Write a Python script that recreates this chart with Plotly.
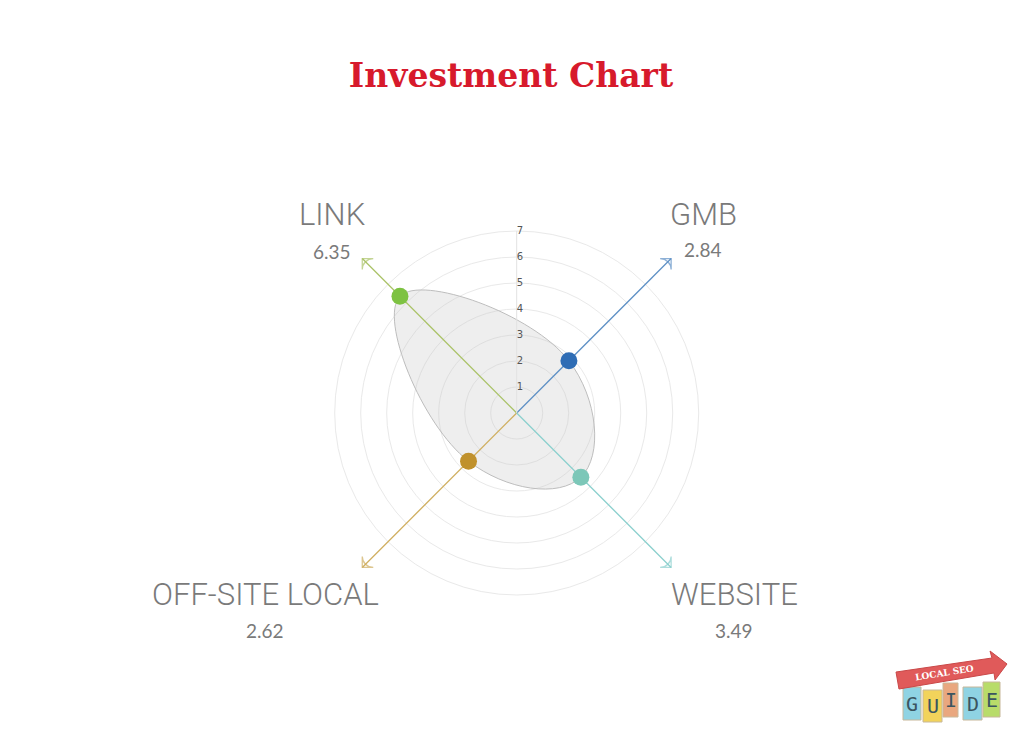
import plotly.graph_objects as go

# data
categories = ["GMB", "LINK", "OFF-SITE LOCAL", "WEBSITE"]
scores = [2.84, 6.35, 2.62, 3.49]
ring_ticks = [1, 2, 3, 4, 5, 6, 7]

marker_colors = ["#2F6DB5", "#7DC242", "#C0912C", "#7CC7B8"]
axis_colors = ["#5C8FC4", "#A9C266", "#CFAE5F", "#8ACFCD"]

arrow_len = 8.4
gray_txt = "#7A7A7A"
W, H, OFF = 1024, 745, 8  # page body margin shifts everything by 8px


def px(x, y):
    # screen pixel -> paper fraction
    return (x - OFF) / W, 1 - (y - OFF) / H


fig = go.Figure()

# filled shape (closed spline)
fig.add_trace(go.Scatterpolar(
    r=scores + scores[:1],
    theta=categories + categories[:1],
    mode="lines",
    fill="toself",
    fillcolor="rgba(200,200,200,0.3)",
    line=dict(color="#BDBDBD", width=1, shape="spline", smoothing=1.3),
    hoverinfo="skip",
))

# vertical radial scale line + ring numbers
fig.add_trace(go.Scatterpolar(
    r=[0, ring_ticks[-1]], theta=[90, 90], thetaunit="degrees",
    mode="lines", line=dict(color="#E2E2E2", width=1),
    hoverinfo="skip", subplot="polar2",
))
fig.add_trace(go.Scatterpolar(
    r=ring_ticks, theta=[90] * len(ring_ticks), thetaunit="degrees",
    mode="text", text=[str(t) for t in ring_ticks], textposition="middle right",
    textfont=dict(family="DejaVu Sans", size=10, color="#555555"),
    hoverinfo="skip", subplot="polar2",
))

# coloured axis arrows
for cat, col in zip(categories, axis_colors):
    fig.add_trace(go.Scatterpolar(
        r=[0, arrow_len], theta=[cat, cat],
        mode="lines+markers",
        line=dict(color=col, width=1.3),
        marker=dict(symbol=["circle", "arrow-wide-open"], size=[0, 11],
                    angleref="previous", color=col, line=dict(color=col, width=1.3)),
        hoverinfo="skip",
    ))

# score points
fig.add_trace(go.Scatterpolar(
    r=scores, theta=categories, mode="markers",
    marker=dict(size=17, color=marker_colors),
))

# labels: (x, name y, value y) in screen pixels
label_pos = {
    "GMB": (703, 214, 250),
    "LINK": (332, 214, 251),
    "OFF-SITE LOCAL": (265, 594, 630),
    "WEBSITE": (734, 594, 630),
}
for cat, val in zip(categories, scores):
    x, y1, y2 = label_pos[cat]
    ax, ay = px(x, y1)
    fig.add_annotation(x=ax, y=ay, xref="paper", yref="paper", text=cat, showarrow=False,
                       font=dict(family="Roboto", size=31, weight=300, color=gray_txt),
                       xanchor="center", yanchor="middle")
    ax, ay = px(x, y2)
    fig.add_annotation(x=ax, y=ay, xref="paper", yref="paper", text=f"{val:.2f}", showarrow=False,
                       font=dict(family="Lato", size=19, color=gray_txt),
                       xanchor="center", yanchor="middle")

# logo (approximate)
logo_letters = ["G", "U", "I", "D", "E"]
logo_colors = ["#8FD3E3", "#F2D35B", "#E9A77F", "#8FD3E3", "#B8DC6A"]
logo_boxes = [(903, 921, 687, 720), (923, 942, 690, 722), (943, 958, 683, 717),
              (963, 982, 687, 720), (983, 1000, 682, 717)]
for ch, c, (x0, x1, y0, y1) in zip(logo_letters, logo_colors, logo_boxes):
    px0, py0 = px(x0, y0)
    px1, py1 = px(x1, y1)
    fig.add_shape(type="rect", xref="paper", yref="paper", x0=px0, x1=px1,
                  y0=py0, y1=py1, fillcolor=c, line=dict(color="#C8B89A", width=1))
    tx, ty = px((x0 + x1) / 2, (y0 + y1) / 2)
    fig.add_annotation(x=tx, y=ty, xref="paper", yref="paper", text=ch,
                       showarrow=False, xanchor="center", yanchor="middle",
                       font=dict(family="DejaVu Sans Mono", size=20, color="#3B5560"))
banner = [(896, 672), (992, 658), (990, 651), (1007, 664), (995, 680), (994, 673), (899, 689)]
path = "M " + " L ".join("{:.4f} {:.4f}".format(*px(x, y)) for x, y in banner) + " Z"
fig.add_shape(type="path", xref="paper", yref="paper", path=path,
              fillcolor="#E05A5A", line=dict(color="#C94848", width=1))
bx, by = px(944, 673)
fig.add_annotation(x=bx, y=by, xref="paper", yref="paper", text="<b>LOCAL SEO</b>", textangle=-9,
                   showarrow=False, xanchor="center", yanchor="middle",
                   font=dict(family="DejaVu Serif", size=9, color="white"))

# polar area: centre (516.7, 413) on screen, 26 px per unit, range 0..8.5
cx, cy, rad = 516.7, 413, 26 * 8.5
dx0, dy0 = px(cx - rad, cy + rad)
dx1, dy1 = px(cx + rad, cy - rad)
polar_common = dict(domain=dict(x=[dx0, dx1], y=[dy0, dy1]), bgcolor="rgba(0,0,0,0)")

fig.update_layout(
    width=W, height=H,
    margin=dict(l=0, r=0, t=0, b=0),
    paper_bgcolor="white",
    showlegend=False,
    title=dict(text="<b>Investment Chart</b>", x=px(511, 0)[0], y=px(0, 75)[1],
               xanchor="center", yanchor="middle",
               font=dict(family="DejaVu Serif", size=33, color="#D71A2C")),
    polar=dict(
        **polar_common,
        radialaxis=dict(range=[0, 8.5], tickvals=ring_ticks, showticklabels=False,
                        showline=False, ticks="", gridcolor="#E9E9E9", gridwidth=1),
        angularaxis=dict(categoryarray=categories, rotation=45, direction="counterclockwise",
                         visible=False),
    ),
    polar2=dict(
        **polar_common,
        radialaxis=dict(range=[0, 8.5], visible=False),
        angularaxis=dict(visible=False),
    ),
)

fig.write_html("out.html")
